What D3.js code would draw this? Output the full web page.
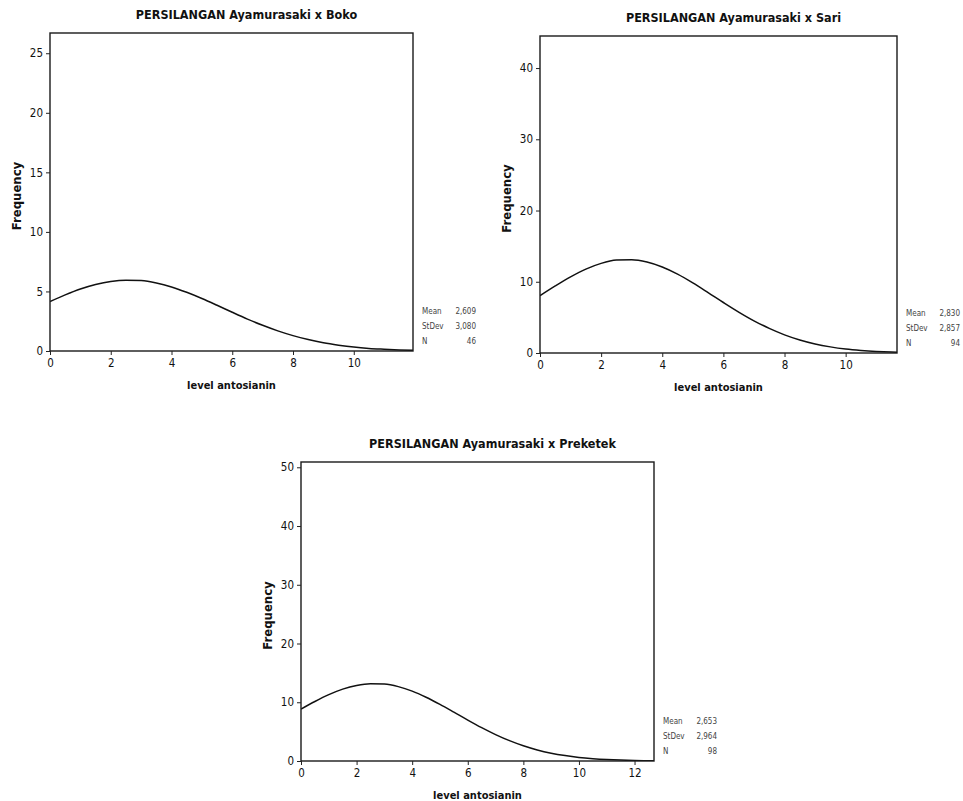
<!DOCTYPE html>
<html>
<head>
<meta charset="utf-8">
<script src="https://cdn.jsdelivr.net/npm/d3@7"></script>
<style>
  body { margin: 0; background: #fff; }
  svg { display: block; }
  text { font-family: 'DejaVu Sans Condensed', 'DejaVu Sans', sans-serif; fill: #111; }
  .tick text { font-size: 11.5px; }
  .tick line { stroke: #222; }
</style>
</head>
<body>
<script>
const curveX = [0, 0.5, 1, 1.5, 2, 2.5, 3, 3.5, 4, 4.5, 5, 5.5, 6, 6.5, 7, 7.5, 8, 8.5, 9, 9.5, 10, 10.5, 11, 11.5, 12, 12.5, 13]
const bokoFreq = [4.16, 4.71, 5.20, 5.58, 5.84, 5.95, 5.91, 5.71, 5.38, 4.93, 4.41, 3.84, 3.25, 2.68, 2.16, 1.69, 1.29, 0.96, 0.69, 0.49, 0.33, 0.22, 0.15, 0.09, 0.05]
const sariFreq = [8.04, 9.41, 10.69, 11.78, 12.58, 13.04, 13.10, 12.77, 12.07, 11.07, 9.84, 8.48, 7.09, 5.75, 4.52, 3.45, 2.55, 1.83, 1.27, 0.86, 0.56, 0.36, 0.22, 0.13, 0.08]
const preketekFreq = [8.84, 10.13, 11.29, 12.23, 12.87, 13.17, 13.10, 12.66, 11.90, 10.86, 9.64, 8.32, 6.97, 5.68, 4.50, 3.46, 2.59, 1.88, 1.33, 0.92, 0.61, 0.40, 0.25, 0.15, 0.09, 0.05, 0.03]

const titles = ['PERSILANGAN Ayamurasaki x Boko', 'PERSILANGAN Ayamurasaki x Sari', 'PERSILANGAN Ayamurasaki x Preketek']
const xLabel = 'level antosianin'
const yLabel = 'Frequency'

const xMax = [11.95, 11.68, 12.7]
const yMax = [26.7, 44.5, 50.9]
const xTicks = [[0, 2, 4, 6, 8, 10], [0, 2, 4, 6, 8, 10], [0, 2, 4, 6, 8, 10, 12]]
const yTicks = [[0, 5, 10, 15, 20, 25], [0, 10, 20, 30, 40], [0, 10, 20, 30, 40, 50]]

const statNames = ['Mean', 'StDev', 'N']
const bokoStats = ['2,609', '3,080', '46']
const sariStats = ['2,830', '2,857', '94']
const preketekStats = ['2,653', '2,964', '98']

// plot frames in page pixels
const boxes = [
  { left: 50, right: 413, top: 33, bottom: 351 },
  { left: 540, right: 897, top: 36, bottom: 353 },
  { left: 301, right: 654, top: 462, bottom: 761 }
]

const panels = [
  { freq: bokoFreq, stats: bokoStats },
  { freq: sariFreq, stats: sariStats },
  { freq: preketekFreq, stats: preketekStats }
]

const svg = d3.select('body').append('svg')
  .attr('width', 963)
  .attr('height', 801)

panels.forEach((p, i) => {
  const b = boxes[i]
  const w = b.right - b.left
  const h = b.bottom - b.top

  const x = d3.scaleLinear().domain([0, xMax[i]]).range([0, w])
  const y = d3.scaleLinear().domain([0, yMax[i]]).range([h, 0])

  const g = svg.append('g').attr('transform', `translate(${b.left},${b.top})`)

  g.append('clipPath').attr('id', 'clip' + i)
    .append('rect').attr('width', w).attr('height', h)

  const pts = p.freq.map((v, k) => [curveX[k], v])
  const line = d3.line()
    .x(d => x(d[0]))
    .y(d => y(d[1]))
    .curve(d3.curveMonotoneX)

  g.append('path')
    .attr('clip-path', `url(#clip${i})`)
    .attr('d', line(pts))
    .attr('fill', 'none')
    .attr('stroke', '#111')
    .attr('stroke-width', 1.5)

  g.append('rect')
    .attr('width', w).attr('height', h)
    .attr('fill', 'none')
    .attr('stroke', '#1a1a1a')
    .attr('stroke-width', 1.4)

  const xa = g.append('g')
    .attr('transform', `translate(0,${h})`)
    .call(d3.axisBottom(x).tickValues(xTicks[i]).tickSize(4).tickSizeOuter(0).tickPadding(4))
  xa.select('.domain').remove()

  const ya = g.append('g')
    .call(d3.axisLeft(y).tickValues(yTicks[i]).tickSize(4).tickSizeOuter(0).tickPadding(3))
  ya.select('.domain').remove()

  g.append('text')
    .attr('x', w / 2 + 15).attr('y', -14)
    .attr('text-anchor', 'middle')
    .attr('font-size', 12.5).attr('font-weight', 'bold')
    .text(titles[i])

  g.append('text')
    .attr('x', w / 2).attr('y', h + 38)
    .attr('text-anchor', 'middle')
    .attr('font-size', 11).attr('font-weight', 'bold')
    .text(xLabel)

  g.append('text')
    .attr('transform', `translate(-29,${h / 2 + 4}) rotate(-90)`)
    .attr('text-anchor', 'middle')
    .attr('font-size', 13).attr('font-weight', 'bold')
    .text(yLabel)

  const st = g.append('g').attr('transform', `translate(${w + 9},${h - 37})`)
  statNames.forEach((n, k) => {
    st.append('text')
      .attr('x', 0).attr('y', k * 15)
      .attr('font-size', 8).style('fill', '#444')
      .text(n)
    st.append('text')
      .attr('x', 54).attr('y', k * 15)
      .attr('text-anchor', 'end')
      .attr('font-size', 8).style('fill', '#444')
      .text(p.stats[k])
  })
})
</script>
</body>
</html>
